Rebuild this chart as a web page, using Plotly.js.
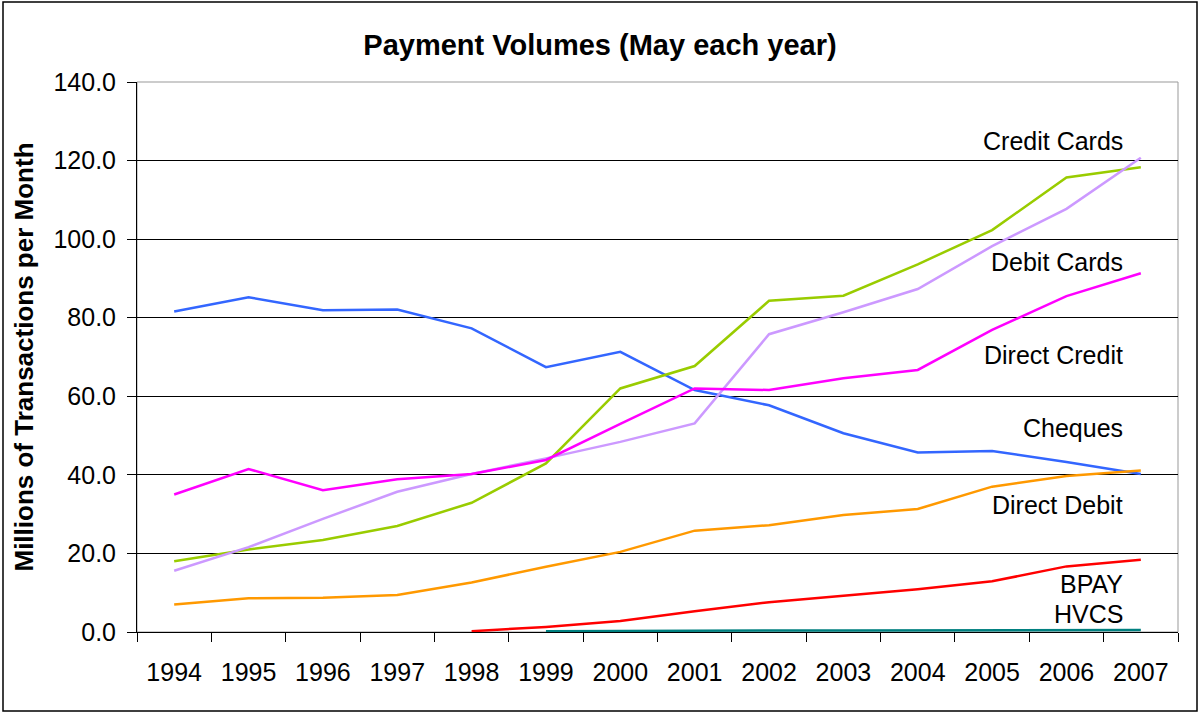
<!DOCTYPE html>
<html>
<head>
<meta charset="utf-8">
<script src="https://cdn.plot.ly/plotly-3.0.1.min.js"></script>
<style>html,body{margin:0;padding:0;background:#fff;}#chart{width:1200px;height:713px;}</style>
</head>
<body>
<div id="chart"></div>
<script>
const years = ['1994','1995','1996','1997','1998','1999','2000','2001','2002','2003','2004','2005','2006','2007'];
const cheques      = [81.6, 85.2, 81.9, 82.1, 77.3, 67.4, 71.3, 61.6, 57.7, 50.6, 45.7, 46.1, 43.3, 40.2];
const creditCards  = [18.0, 21.0, 23.4, 27.0, 32.9, 42.9, 62.0, 67.7, 84.3, 85.6, 93.6, 102.3, 115.7, 118.3];
const debitCards   = [15.6, 21.6, 28.8, 35.7, 40.2, 44.2, 48.4, 53.1, 75.8, 81.4, 87.3, 98.2, 107.7, 120.7];
const directCredit = [35.0, 41.5, 36.1, 38.9, 40.2, 43.8, 53.0, 62.0, 61.6, 64.6, 66.7, 76.9, 85.5, 91.3];
const directDebit  = [7.0, 8.6, 8.7, 9.4, 12.6, 16.6, 20.4, 25.8, 27.2, 29.8, 31.3, 37.0, 39.7, 41.1];
const bpay         = [null, null, null, null, 0.2, 1.3, 2.8, 5.3, 7.6, 9.2, 10.9, 12.9, 16.7, 18.4];
const hvcs         = [null, null, null, null, null, 0.2, 0.3, 0.4, 0.4, 0.4, 0.4, 0.4, 0.5, 0.5];

const seriesNames  = ['Cheques','Credit Cards','Debit Cards','Direct Credit','Direct Debit','BPAY','HVCS'];
const seriesValues = [cheques, creditCards, debitCards, directCredit, directDebit, bpay, hvcs];
const seriesColors = ['#3366FF','#99CC00','#CC99FF','#FF00FF','#FF9900','#FF0000','#008080'];
// label positions (in value units on the y axis) for the right-hand text labels
const labelNames = ['Credit Cards','Debit Cards','Direct Credit','Cheques','Direct Debit','BPAY','HVCS'];
const labelY     = [125.0, 94.2, 70.5, 51.9, 32.4, 12.3, 4.6];

const traces = seriesNames.map((n, i) => ({
  type: 'scatter', mode: 'lines', name: n, x: years, y: seriesValues[i],
  line: {color: seriesColors[i], width: 2.5}, connectgaps: false
}));

const font = 'Arial, "Liberation Sans", sans-serif';
const annotations = labelNames.map((t, i) => ({
  text: t, xref: 'paper', yref: 'y', x: 0.949, y: labelY[i], xanchor: 'right', yanchor: 'middle',
  showarrow: false, font: {family: font, size: 25, color: '#000'}
}));

const layout = {
  width: 1200, height: 713,
  margin: {l: 137, r: 22, t: 82, b: 81},
  paper_bgcolor: '#fff', plot_bgcolor: '#fff',
  showlegend: false,
  font: {family: font, color: '#000'},
  title: {text: '<b>Payment Volumes (May each year)</b>', font: {family: font, size: 29, color: '#000'},
          xref: 'container', x: 0.5, xanchor: 'center', yref: 'container', y: 0.937, yanchor: 'middle'},
  xaxis: {
    type: 'category', range: [-0.5, 13.5], tickson: 'boundaries',
    ticks: 'outside', ticklen: 9, tickcolor: '#000', tickwidth: 1,
    showline: true, linecolor: '#000', linewidth: 1, showgrid: false, zeroline: false,
    tickfont: {family: font, size: 25, color: '#000'}, ticklabelstandoff: 18, automargin: false
  },
  yaxis: {
    range: [0, 140], dtick: 20, tickformat: '.1f',
    ticks: 'outside', ticklen: 9, tickcolor: '#000', tickwidth: 1,
    showline: true, linecolor: '#000', linewidth: 1,
    showgrid: true, gridcolor: '#000', gridwidth: 1, zeroline: false,
    tickfont: {family: font, size: 25, color: '#000'}, ticklabelstandoff: 6, automargin: false,
    title: {text: '<b>Millions of Transactions per Month</b>', font: {family: font, size: 26, color: '#000'}, standoff: 12}
  },
  shapes: [
    {type: 'rect', xref: 'paper', yref: 'paper', x0: 0, x1: 1, y0: 0, y1: 1, line: {color: '#999', width: 1}, layer: 'below'},
    {type: 'rect', xref: 'paper', yref: 'paper', x0: (3-137)/1041, x1: (1197-137)/1041, y0: (632-711)/550, y1: (632-2)/550, line: {color: '#000', width: 1.5}}
  ],
  annotations: annotations
};

Plotly.newPlot('chart', traces, layout, {displayModeBar: false, staticPlot: true});
</script>
</body>
</html>
